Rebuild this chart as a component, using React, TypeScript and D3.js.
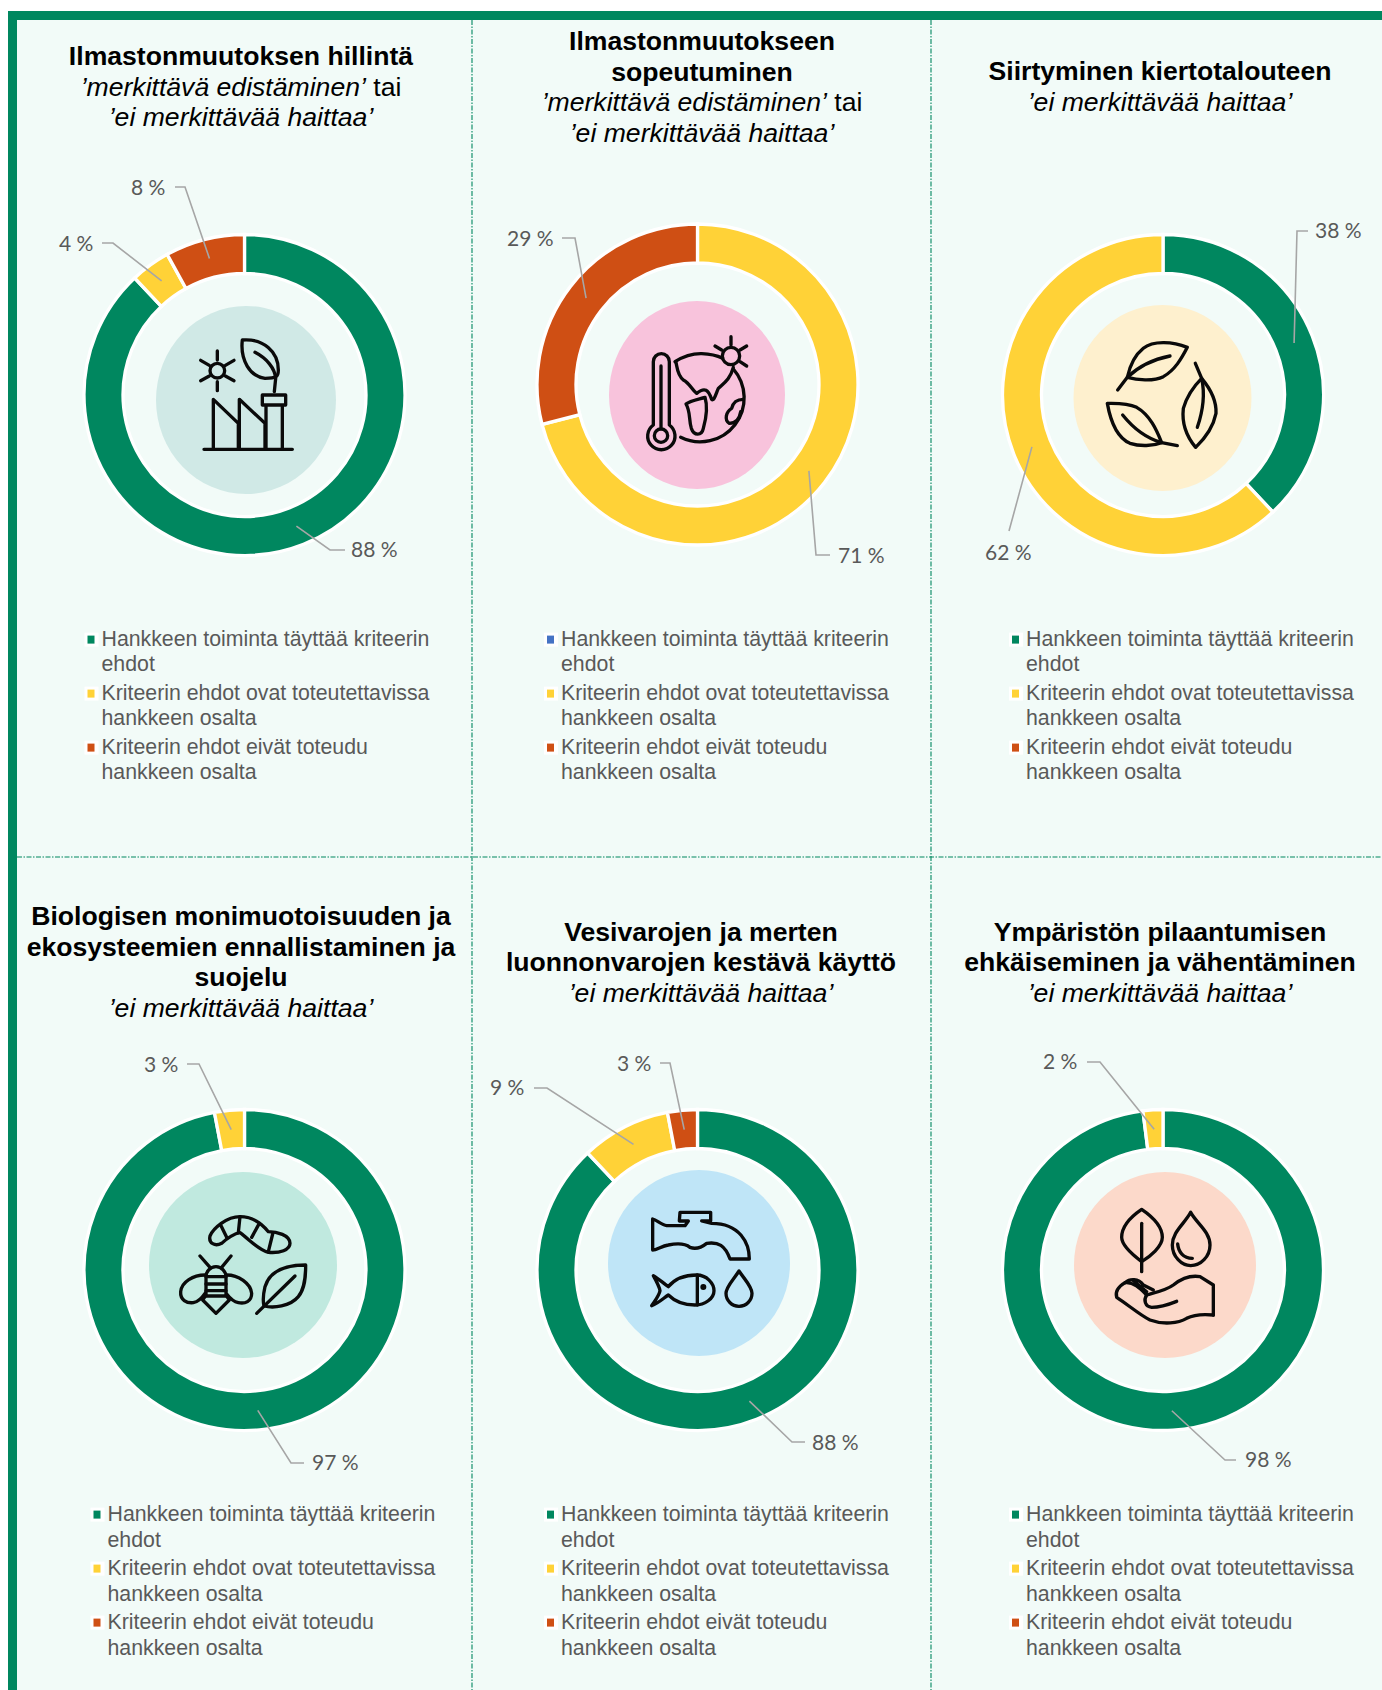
// App.tsx
import React from 'react';
import * as d3 from 'd3';

const GREEN = '#00875f';
const YELLOW = '#ffd237';
const RED = '#cf4f14';
const BLUE = '#4472c4';
const BG = '#f2fbf8';

const meets = [88, 0, 38, 97, 88, 98];
const feasible = [4, 71, 62, 3, 9, 2];
const notMet = [8, 29, 0, 0, 3, 0];
const seriesColors = [GREEN, YELLOW, RED];

const legendLines = [
  ['Hankkeen toiminta täyttää kriteerin', 'ehdot'],
  ['Kriteerin ehdot ovat toteutettavissa', 'hankkeen osalta'],
  ['Kriteerin ehdot eivät toteudu', 'hankkeen osalta'],
];

const boldTitles = [
  ['Ilmastonmuutoksen hillintä'],
  ['Ilmastonmuutokseen', 'sopeutuminen'],
  ['Siirtyminen kiertotalouteen'],
  ['Biologisen monimuotoisuuden ja', 'ekosysteemien ennallistaminen ja', 'suojelu'],
  ['Vesivarojen ja merten', 'luonnonvarojen kestävä käyttö'],
  ['Ympäristön pilaantumisen', 'ehkäiseminen ja vähentäminen'],
];
const hasEdistaminen = [true, true, false, false, false, false];

// panel layout
const centers = [[244.5, 395], [697.5, 384.5], [1163, 395], [244.5, 1270], [697.5, 1270], [1163, 1270]];
const titleX = [241, 702, 1160, 241, 701, 1160];
const titleY = [65, 50, 80, 925, 940.5, 940.5];
const legendX = [101.5, 561, 1026, 107.5, 561, 1026];
const legendY = [645.6, 645.6, 645.6, 1520.6, 1520.6, 1520.6];
const legendGap = [25, 25, 25, 26, 26, 26];
const iconCircles = [
  { cx: 246, cy: 400, rx: 90, ry: 94, fill: '#d0e9e6' },
  { cx: 697, cy: 395, rx: 88, ry: 94, fill: '#f8c3dc' },
  { cx: 1162.5, cy: 398, rx: 89, ry: 93, fill: '#fef0ce' },
  { cx: 243, cy: 1265, rx: 94, ry: 93, fill: '#c0e9df' },
  { cx: 699, cy: 1263, rx: 91, ry: 93, fill: '#bfe5f7' },
  { cx: 1165, cy: 1265, rx: 91, ry: 93, fill: '#fcd9ca' },
];
const iconOrigins = [[130, 280], [590, 280], [1050, 290], [130, 1160], [590, 1160], [1050, 1160]];

// leader elbows: [panel, series, elbowX, elbowY, endX, endY, textX, textY]
const leaders: [number, number, number, number, number, number, number, number][] = [
  [0, 0, 330, 550, 345, 550, 351, 557],
  [0, 1, 113, 243, 102, 243, 59, 251],
  [0, 2, 185, 187, 175, 187, 131, 195],
  [1, 1, 816, 555, 830, 555, 838, 563],
  [1, 2, 575, 238, 562, 238, 507, 246],
  [2, 0, 1297, 231, 1308, 231, 1315, 238],
  [2, 1, 1009, 531, 1009, 531, 985, 560],
  [3, 0, 291, 1463, 304, 1463, 312, 1470],
  [3, 1, 199, 1064, 187, 1064, 144, 1072],
  [4, 0, 792, 1442, 805, 1442, 812, 1450],
  [4, 1, 547, 1088, 534, 1088, 490, 1095],
  [4, 2, 670, 1063, 660, 1063, 617, 1071],
  [5, 0, 1225, 1460, 1236, 1460, 1245, 1467],
  [5, 1, 1100, 1062, 1087, 1062, 1043, 1069],
];

const R_OUT = 160.5;
const R_IN = 121.5;
const pie = d3.pie<number>().sort(null).value((d) => d);
const arc = d3.arc<d3.PieArcDatum<number>>().innerRadius(R_IN).outerRadius(R_OUT);
const centroidArc = d3.arc<d3.PieArcDatum<number>>().innerRadius(122).outerRadius(160);

// pictograms, traced in a 660 box at 3x
const iconPaths = [
  [
    'M262,213V240M262,305V332M212,241L238,256M286,288L312,302M212,302L238,288M286,256L312,241',
    'M284,272A22,22 0 1 1 240,272A22,22 0 1 1 284,272Z',
    'M337,180C400,175 445,215 445,270C445,290 440,295 405,295C360,290 330,240 337,180Z',
    'M375,217C410,235 435,265 437,295L433,335',
    'M222,508H487M250,508V358L325,430V508M328,508V358L405,430V508',
    'M397,345H467V375H397ZM408,375V508M457,375V508',
  ],
  [
    'M190,435V245A24,24 0 0 1 238,245V435A41,41 0 1 1 190,435Z',
    'M233,467A20,20 0 1 1 193,467A20,20 0 1 1 233,467Z',
    'M213,258V445',
    'M255,245Q295,220 335,221Q372,222 398,235M430,267A132,132 0 0 1 272,472',
    'M258,247C262,265 262,285 280,300C300,310 305,330 320,340C345,320 355,330 365,358C372,365 378,340 385,325C400,310 420,300 430,262',
    'M288,372C300,362 325,358 345,352C352,375 350,410 340,445C335,468 312,468 304,445C296,420 302,395 288,372Z',
    'M460,358C440,358 430,365 425,385C408,395 402,420 418,430C435,430 448,420 452,395',
    'M449,228A26,26 0 1 1 397,228A26,26 0 1 1 449,228Z',
    'M423,170V195M375,198L395,210M470,198L450,210M470,258L450,245',
  ],
  [
    'M412,172C370,155 310,150 280,175C255,195 240,225 232,262C260,270 310,275 340,260C375,240 395,205 412,172Z',
    'M203,300L232,262C270,225 310,208 360,198',
    'M172,340C180,385 195,440 240,460C270,470 310,468 335,458C320,420 300,375 260,352C230,338 200,340 172,340Z',
    'M218,375C250,415 290,445 335,458L382,467',
    'M437,472C410,440 395,400 400,355C410,320 435,285 455,265C480,295 500,330 498,370C490,410 465,445 437,472Z',
    'M436,220L455,265C465,310 458,365 442,412',
  ],
  [
    'M240,228C250,205 290,170 330,170C370,170 395,190 415,215C440,215 480,225 480,250C480,270 450,280 415,277C385,270 360,240 330,218C315,220 290,235 275,250C255,260 235,250 240,228Z',
    'M330,170L325,218M272,195L290,232M388,190L365,232M428,222L415,275',
    'M225,345C190,345 155,365 152,395C150,420 170,430 190,428C205,425 215,415 225,400',
    'M290,345C325,345 362,370 365,400C365,425 345,432 325,428C310,425 300,415 290,402',
    'M258,320C240,320 228,335 228,350V405L218,420L258,460L298,420L288,405V350C288,335 275,320 258,320Z',
    'M228,350H288M228,372H288M228,392H288M228,408H288M210,288L240,322M303,288L275,322',
    'M527,315C470,315 420,330 405,380C398,410 400,430 402,438C430,445 480,440 505,410C525,385 527,350 527,315Z',
    'M380,460L495,348',
  ],
  [
    'M188,177V270C200,270 215,258 235,255C260,250 285,250 300,262C320,270 335,262 350,250C385,245 405,255 420,297H478C478,250 450,190 365,190L335,183H362V157H270L268,183H295L285,197H230C215,195 200,180 188,177Z',
    'M235,380C260,350 290,345 320,345C350,345 372,370 372,392C372,415 345,435 315,435C285,435 255,425 235,405C220,415 205,430 185,437C200,415 208,405 210,392C208,380 200,365 190,347C205,355 220,370 235,380Z',
    'M322,345V435',
    'M447,333C430,360 408,380 408,400A39,39 0 0 0 486,400C486,380 465,360 447,333Z',
  ],
  [
    'M275,148C250,165 215,195 215,232C215,260 255,290 275,305C300,290 337,260 337,232C337,195 300,165 275,148Z',
    'M275,190V335',
    'M422,157C405,190 367,215 367,255C367,290 395,317 422,317C452,317 480,290 480,255C480,215 440,190 422,157Z',
    'M383,252C385,275 400,295 427,295',
    'M490,465V375L450,350C420,345 395,355 370,375C350,390 325,395 290,405C280,420 285,440 305,442C330,442 360,432 380,424',
    'M290,405C270,385 250,365 225,368C205,380 195,395 200,412C235,435 270,465 300,480C340,495 385,490 410,475C435,462 460,462 490,465',
    'M225,368C240,355 265,355 280,375L310,390M250,362L290,395',
  ],
];

const App = () => {
  const panels = meets.map((m, i) => {
    const arcs = pie([m, feasible[i], notMet[i]]);
    return { arcs, center: centers[i] };
  });

  return (
    <svg
      width={1382}
      height={1690}
      style={{ position: 'absolute', left: 0, top: 0, display: 'block' }}
    >
      <rect x={8} y={11} width={1374} height={1679} fill={GREEN} />
      <rect x={17} y={20} width={1365} height={1670} fill={BG} />

      {/* dashed dividers */}
      {[472, 931].map((x) => (
        <line key={x} x1={x} x2={x} y1={20} y2={1690} stroke={GREEN} strokeWidth={1.1} strokeDasharray="5,1.5,1.5,1.5" />
      ))}
      <line x1={17} x2={1382} y1={857} y2={857} stroke={GREEN} strokeWidth={1.1} strokeDasharray="5,1.5,1.5,1.5" />

      {panels.map(({ arcs, center }, i) => (
        <g key={i}>
          <ellipse {...iconCircles[i]} />
          <g transform={`translate(${iconOrigins[i][0]},${iconOrigins[i][1]}) scale(${1 / 3})`}>
            {iconPaths[i].map((d, k) => (
              <path key={k} d={d} fill="none" stroke="#0a0a0a" strokeWidth={10} strokeLinecap="round" strokeLinejoin="round" />
            ))}
            {i === 4 && <circle cx={340} cy={381} r={9} fill="#0a0a0a" />}
          </g>
          <g transform={`translate(${center[0]},${center[1]})`}>
            {arcs.filter((a) => a.value > 0).map((a) => (
              <path key={a.index} d={arc(a) as string} fill={seriesColors[a.index]} stroke="#fff" strokeWidth={3.3} />
            ))}
          </g>
        </g>
      ))}

      {/* leader lines and value labels */}
      {leaders.map(([p, s, ex, ey, endX, endY, tx, ty]) => {
        const a = panels[p].arcs[s];
        const [cx, cy] = centroidArc.centroid(a);
        const x0 = panels[p].center[0] + cx;
        const y0 = panels[p].center[1] + cy;
        return (
          <g key={`${p}-${s}`}>
            <polyline
              points={`${x0},${y0} ${ex},${ey} ${endX},${endY}`}
              fill="none"
              stroke="#a6a6a6"
              strokeWidth={1.6}
            />
            <text x={tx} y={ty} fontFamily="Lato" fontSize={21} fill="#595959">
              {a.value} %
            </text>
          </g>
        );
      })}

      {/* titles */}
      {boldTitles.map((lines, i) => (
        <text key={i} fontFamily="'Liberation Sans'" fontSize={26.6} textAnchor="middle" fill="#000">
          {lines.map((t, k) => (
            <tspan key={k} x={titleX[i]} y={titleY[i] + k * 30.7} fontWeight="bold">
              {t}
            </tspan>
          ))}
          {hasEdistaminen[i] && (
            <tspan x={titleX[i]} y={titleY[i] + lines.length * 30.7}>
              <tspan fontStyle="italic">’merkittävä edistäminen’</tspan> tai
            </tspan>
          )}
          <tspan
            x={titleX[i]}
            y={titleY[i] + (lines.length + (hasEdistaminen[i] ? 1 : 0)) * 30.7}
            fontStyle="italic"
          >
            ’ei merkittävää haittaa’
          </tspan>
        </text>
      ))}

      {/* legends */}
      {legendX.map((x, i) => (
        <g key={i}>
          {legendLines.map((lines, s) => {
            const y = legendY[i] + s * 54;
            const color = i === 1 && s === 0 ? BLUE : seriesColors[s];
            return (
              <g key={s}>
                <rect x={x - 17} y={y - 13} width={14} height={14} fill="#fff" />
                <rect x={x - 14} y={y - 10} width={7} height={8} fill={color} />
                <text fontFamily="'Liberation Sans'" fontSize={21.3} fill="#595959">
                  {lines.map((t, k) => (
                    <tspan key={k} x={x} y={y + k * legendGap[i]}>
                      {t}
                    </tspan>
                  ))}
                </text>
              </g>
            );
          })}
        </g>
      ))}
    </svg>
  );
};

export default App;
